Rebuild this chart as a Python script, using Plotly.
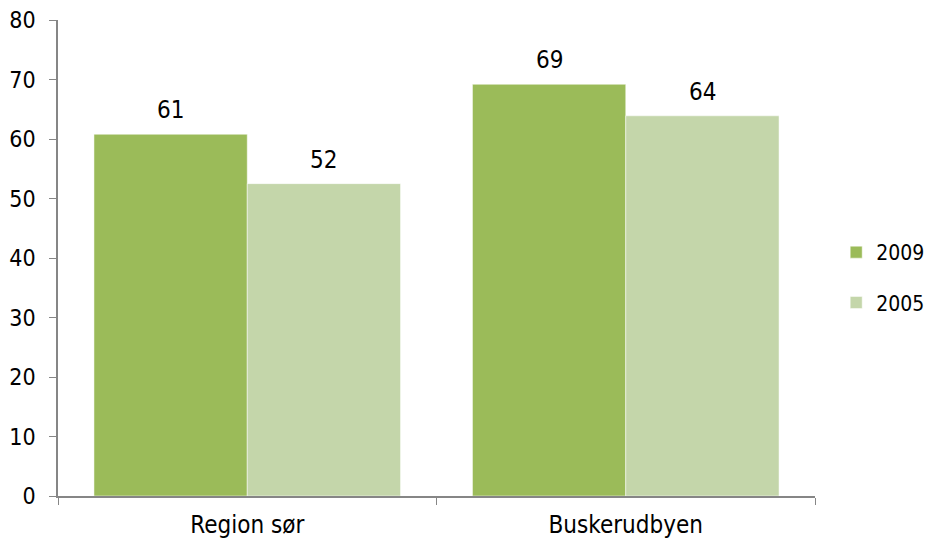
import plotly.graph_objects as go

categories = ["Region sør", "Buskerudbyen"]
years = ["2009", "2005"]
values_2009 = [60.8, 69.2]
values_2005 = [52.5, 63.9]
labels_2009 = ["61", "69"]
labels_2005 = ["52", "64"]
colors = {"2009": "#9BBB59", "2005": "#C4D6AA"}

FONT = "DejaVu Sans Condensed, Liberation Sans Narrow, Arial Narrow, sans-serif"
bargap = 0.19

fig = go.Figure()
for year, vals in zip(years, [values_2009, values_2005]):
    fig.add_trace(go.Bar(
        x=categories, y=vals, name=year, legendgroup=year,
        marker=dict(color=colors[year], line=dict(color="white", width=0.5)),
    ))

# data labels above each bar
half = (1 - bargap) / 2
for i, cat in enumerate(categories):
    for j, (vals, labs) in enumerate([(values_2009, labels_2009), (values_2005, labels_2005)]):
        fig.add_annotation(
            x=i - half / 2 + j * half, y=vals[i], text=labs[i],
            showarrow=False, yanchor="bottom", yshift=8,
            font=dict(family=FONT, size=24, color="#000"),
        )

fig.update_layout(
    width=925, height=542,
    margin=dict(l=58, r=110, t=20, b=46),
    plot_bgcolor="white", paper_bgcolor="white",
    barmode="group", bargap=bargap, bargroupgap=0,
    font=dict(family=FONT, size=24, color="#000"),
    legend=dict(xref="container", yref="container", x=0.904, y=0.488,
                yanchor="middle", xanchor="left",
                traceorder="grouped", tracegroupgap=20,
                font=dict(size=21), itemwidth=30),
    showlegend=True,
)
fig.update_yaxes(range=[0, 80], dtick=10, showgrid=False, showline=True,
                 linecolor="#868686", linewidth=1.5, ticks="outside",
                 ticklen=7, tickcolor="#868686", zeroline=False,
                 ticklabelstandoff=9, ticklabeloverflow="allow",
                 tickfont=dict(size=23), automargin=False)
fig.update_xaxes(showline=True, linecolor="#868686", linewidth=1.5,
                 ticks="outside", tickson="boundaries", ticklen=7,
                 tickcolor="#868686", showgrid=False,
                 ticklabelstandoff=6, automargin=False)

# drop the default 8px page margin so the figure fills the window
fig.write_html("out.html", config={"displayModeBar": False},
               post_script="document.body.style.margin='0';"
                           "document.body.style.overflow='hidden';")
